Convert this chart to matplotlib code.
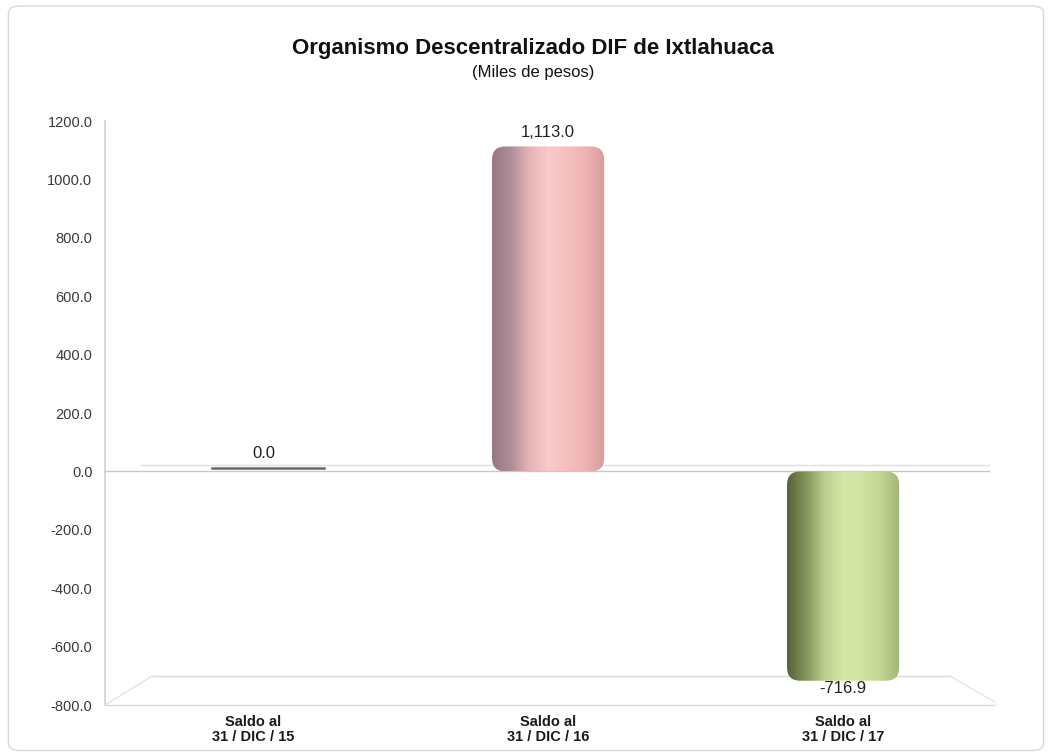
# -*- coding: utf-8 -*-
"""Organismo Descentralizado DIF de Ixtlahuaca — saldos (miles de pesos)."""
import numpy as np
import matplotlib
matplotlib.use("Agg")
import matplotlib.pyplot as plt
from matplotlib.patches import FancyBboxPatch
from matplotlib.colors import LinearSegmentedColormap

plt.rcParams["font.family"] = ["Liberation Sans", "DejaVu Sans"]

categorias = ["Saldo al\n31 / DIC / 15", "Saldo al\n31 / DIC / 16", "Saldo al\n31 / DIC / 17"]
valores = [0.0, 1113.0, -716.9]
etiquetas = ["0.0", "1,113.0", "-716.9"]
yticks = [1200, 1000, 800, 600, 400, 200, 0, -200, -400, -600, -800]

PINK = ["#9A7682", "#AE8D97", "#E6B5B8", "#F8CACA", "#F5C0BF", "#EEB2B1", "#D69C9D"]
GREEN = ["#55623A", "#84955A", "#BBCF8E", "#D6E7A7", "#D1E3A2", "#C2D692", "#A2B574"]
colores = [None, PINK, GREEN]

XL = (-0.502, 2.515)
YL = (-800, 1200)

fig = plt.figure(figsize=(10.52, 7.55), dpi=100)
fig.patches.append(FancyBboxPatch((0.008, 0.006), 0.984, 0.986, transform=fig.transFigure,
                                  boxstyle="round,pad=0,rounding_size=0.01",
                                  fc="none", ec="#D8D8D8", lw=1.0, zorder=0))
ax = fig.add_axes([105 / 1052, 0.0662, 890 / 1052, 0.7735])
ax.set_xlim(*XL)
ax.set_ylim(*YL)
for s in ax.spines.values():
    s.set_visible(False)
ax.patch.set_alpha(0)

# eje y
ax.set_yticks(yticks)
ax.set_yticklabels([f"{v:.1f}" for v in yticks], fontsize=10.5, color="#3A3A3A")
ax.tick_params(axis="y", length=0, pad=9)
ax.plot([XL[0], XL[0]], [-800, 1200], color="#D0D0D0", lw=1.2, clip_on=False, zorder=1)

# plano del cero (doble linea 3D)
ax.plot([XL[0], XL[1] - 0.02], [0, 0], color="#C8C8C8", lw=1.0, zorder=1)
ax.plot([-0.38, XL[1] - 0.02], [22, 22], color="#E0E0E0", lw=1.0, zorder=1)
# piso
ax.plot([XL[0], -0.34], [-800, -700], color="#E2E2E2", lw=1.0, clip_on=False, zorder=1)
ax.plot([-0.34, 2.36], [-700, -700], color="#DADADA", lw=1.0, clip_on=False, zorder=1)
ax.plot([2.36, XL[1]], [-700, -790], color="#E6E6E6", lw=1.0, clip_on=False, zorder=1)
ax.plot([XL[0], XL[1]], [-800, -800], color="#DADADA", lw=1.0, clip_on=False, zorder=1)

ax.set_xticks(range(len(categorias)))
ax.set_xticklabels(categorias, fontsize=10.5, fontweight="bold", color="#1A1A1A", linespacing=1.15)
ax.tick_params(axis="x", length=0, pad=7)

x = np.arange(len(valores))
bars = ax.bar(x, valores, width=0.38, color="none", edgecolor="none")

aspect = (2000 / 584) / (1 / 295)  # data-y por data-x en igual pixel
for b, cols in zip(bars, colores):
    bx, by, bw, bh = b.get_x(), b.get_y(), b.get_width(), b.get_height()
    if cols is None:
        ax.plot([bx + 0.05, bx + bw + 0.05], [by + 12, by + 12], color="#6A6A6A", lw=1.8, zorder=3)
        continue
    y0, h = (by, bh) if bh >= 0 else (by + bh, -bh)
    patch = FancyBboxPatch((bx, y0), bw, h, boxstyle="round,pad=0,rounding_size=0.045",
                           mutation_aspect=aspect, fc="none", ec="none", zorder=3)
    ax.add_patch(patch)
    cmap = LinearSegmentedColormap.from_list("c", cols)
    grad = np.linspace(0, 1, 256).reshape(1, -1)
    im = ax.imshow(grad, cmap=cmap, aspect="auto", extent=(bx, bx + bw, y0, y0 + h),
                   zorder=3, interpolation="bicubic")
    im.set_clip_path(patch)

ax.set_xlim(*XL)
ax.set_ylim(*YL)

# etiquetas de valor
for xi, v, t in zip(x, valores, etiquetas):
    if v > 0:
        yy = v + 48
    elif v < 0:
        yy = v - 25
    else:
        yy = 62
    ax.text(xi + (0.035 if v == 0 else 0), yy, t, ha="center", va="center",
            fontsize=12, color="#222222")

fig.text(0.507, 0.936, "Organismo Descentralizado DIF de Ixtlahuaca", ha="center", va="center",
         fontsize=16, fontweight="bold", color="#111111")
fig.text(0.507, 0.904, "(Miles de pesos)", ha="center", va="center", fontsize=12, color="#111111")

fig.savefig("out.png", dpi=100, facecolor="white")
